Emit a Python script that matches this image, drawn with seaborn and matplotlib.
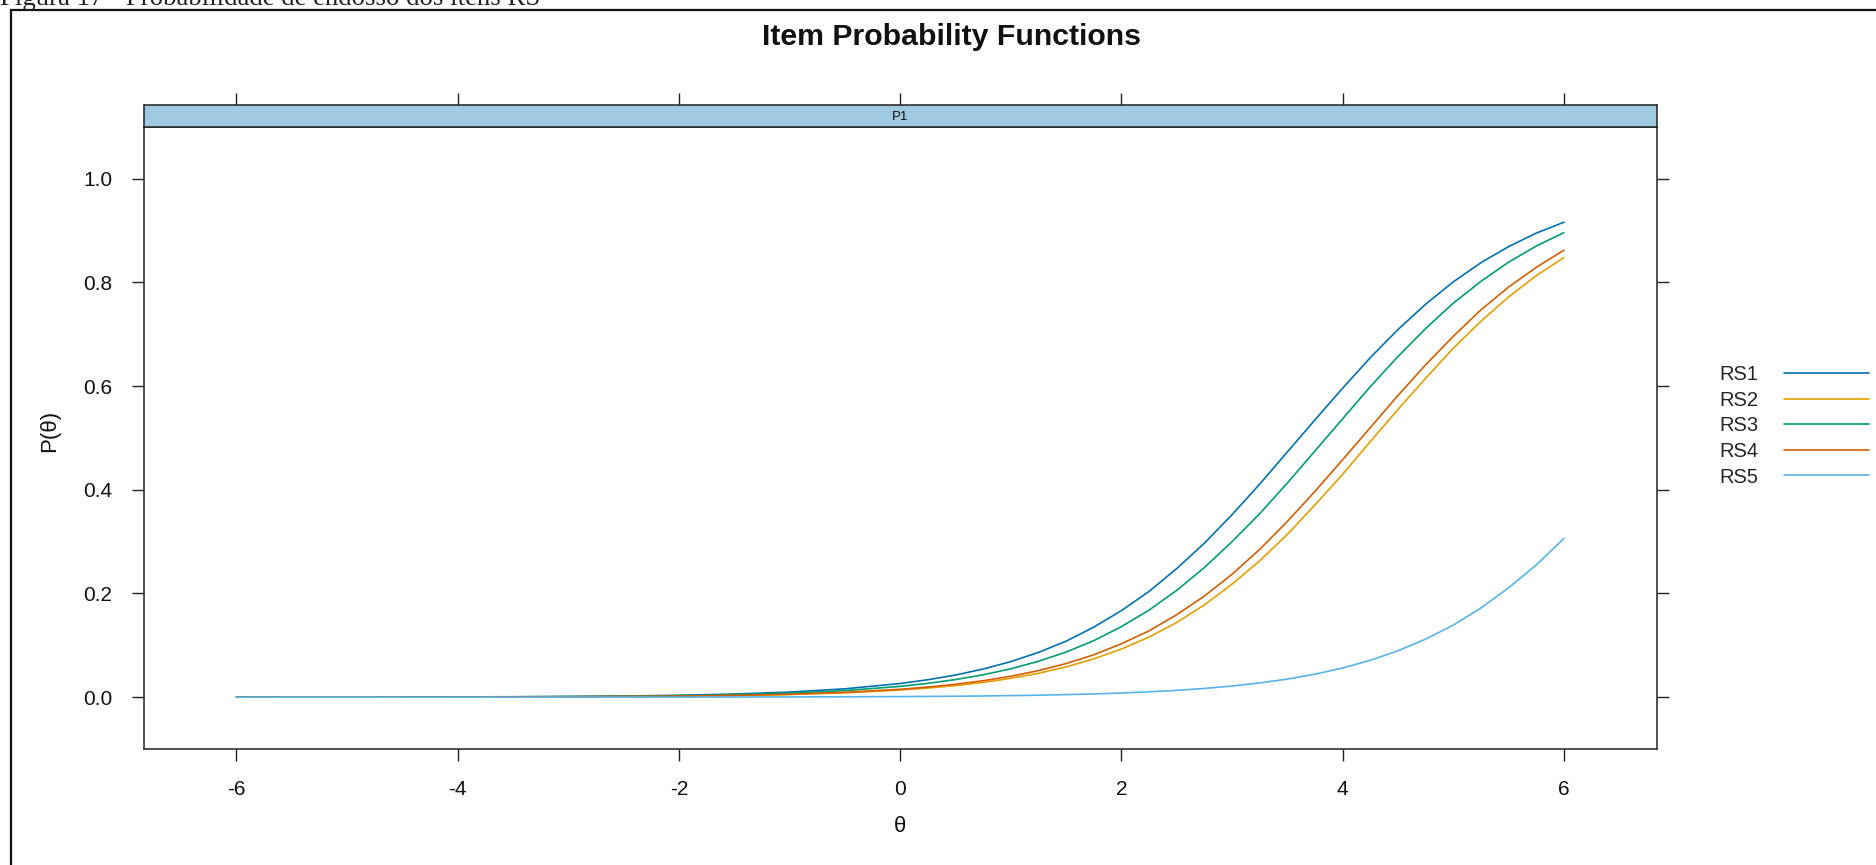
import matplotlib
matplotlib.use("Agg")
import matplotlib.pyplot as plt
from matplotlib.patches import Rectangle
import seaborn as sns
import pandas as pd

# Ability grid (coarse in the flat tail, finer where the curves bend)
theta = [-6.0, -5.5, -5.0, -4.5, -4.0, -3.5, -3.0, -2.5, -2.0, -1.5, -1.0, -0.5,
         0.0, 0.25, 0.5, 0.75, 1.0, 1.25, 1.5, 1.75, 2.0, 2.25, 2.5, 2.75,
         3.0, 3.25, 3.5, 3.75, 4.0, 4.25, 4.5, 4.75, 5.0, 5.25, 5.5, 5.75, 6.0]

rs1 = [0.0001, 0.0001, 0.0002, 0.0003, 0.0005, 0.0008, 0.0013, 0.0022, 0.0036, 0.0060,
       0.0098, 0.0161,
       0.0263, 0.0336, 0.0427, 0.0542, 0.0685, 0.0863, 0.108, 0.135, 0.167, 0.204,
       0.248, 0.297, 0.352, 0.411, 0.473, 0.535, 0.596, 0.655, 0.709, 0.758,
       0.801, 0.838, 0.869, 0.895, 0.916]
rs2 = [0.0000, 0.0001, 0.0001, 0.0002, 0.0003, 0.0004, 0.0007, 0.0011, 0.0019, 0.0031,
       0.0051, 0.0083,
       0.0137, 0.0175, 0.0223, 0.0285, 0.0363, 0.0461, 0.0584, 0.0738, 0.0928, 0.116,
       0.144, 0.178, 0.218, 0.263, 0.314, 0.371, 0.430, 0.493, 0.555, 0.615,
       0.673, 0.725, 0.772, 0.813, 0.848]
rs3 = [0.0001, 0.0001, 0.0001, 0.0002, 0.0004, 0.0006, 0.0011, 0.0017, 0.0029, 0.0047,
       0.0078, 0.0127,
       0.0208, 0.0266, 0.0339, 0.0431, 0.0547, 0.0692, 0.0870, 0.109, 0.136, 0.168,
       0.206, 0.250, 0.300, 0.354, 0.413, 0.475, 0.537, 0.599, 0.657, 0.711,
       0.760, 0.802, 0.839, 0.870, 0.896]
rs4 = [0.0000, 0.0001, 0.0001, 0.0002, 0.0003, 0.0005, 0.0008, 0.0013, 0.0021, 0.0034,
       0.0056, 0.0093,
       0.0152, 0.0195, 0.0248, 0.0317, 0.0403, 0.0512, 0.0648, 0.0817, 0.103, 0.128,
       0.159, 0.195, 0.237, 0.285, 0.339, 0.397, 0.458, 0.520, 0.582, 0.641,
       0.696, 0.747, 0.791, 0.829, 0.862]
rs5 = [0.0000, 0.0000, 0.0000, 0.0000, 0.0000, 0.0000, 0.0001, 0.0001, 0.0001, 0.0002,
       0.0004, 0.0007,
       0.0011, 0.0014, 0.0018, 0.0023, 0.0030, 0.0038, 0.0049, 0.0062, 0.0080, 0.0103,
       0.0131, 0.0168, 0.0215, 0.0274, 0.0349, 0.0444, 0.0563, 0.0711, 0.0895, 0.112,
       0.139, 0.172, 0.211, 0.255, 0.306]

items = ["RS1", "RS2", "RS3", "RS4", "RS5"]
colors = ["#0072B2", "#E69F00", "#009E73", "#D55E00", "#56B4E9"]
x_ticks = [-6, -4, -2, 0, 2, 4, 6]
y_ticks = [0.0, 0.2, 0.4, 0.6, 0.8, 1.0]
panel_name = "P1"

frames = []
for name, vals in zip(items, [rs1, rs2, rs3, rs4, rs5]):
    frames.append(pd.DataFrame({"theta": theta, "P": vals, "item": name}))
df = pd.concat(frames, ignore_index=True)

sns.set_style("white")
plt.rcParams["font.family"] = ["Liberation Sans", "DejaVu Sans"]

fig = plt.figure(figsize=(18.76, 8.65), dpi=100)

# outer frame around the plotting region
fig.patches.append(Rectangle((11 / 1876, -0.2), 1.2, 1.2 - 10 / 865,
                             transform=fig.transFigure, fill=False,
                             edgecolor="#111111", linewidth=1.6, zorder=0))

ax = fig.add_axes([0.0765, 0.1341, 0.8067, 0.7193])
strip = fig.add_axes([0.0765, 0.8534, 0.8067, 0.0249])

sns.lineplot(data=df, x="theta", y="P", hue="item", hue_order=items,
             palette=colors, ax=ax, linewidth=1.2, sort=False, legend=True)

ax.set_xlim(-6.84, 6.84)
ax.set_ylim(-0.1, 1.1)
ax.set_xticks(x_ticks)
ax.set_xticklabels([str(t) for t in x_ticks])
ax.set_yticks(y_ticks)
ax.set_yticklabels([f"{t:.1f}" for t in y_ticks])
ax.tick_params(axis="both", direction="out", length=8.5, width=1.0,
               color="#222222", labelsize=15, labelcolor="#111111")
ax.tick_params(axis="y", right=True, labelright=False, left=True, pad=14)
ax.tick_params(axis="x", bottom=True, top=False, pad=14)
ax.set_xlabel("")
ax.set_ylabel("")
for sp in ax.spines.values():
    sp.set_visible(True)
    sp.set_color("#222222")
    sp.set_linewidth(1.1)

# strip above the panel
strip.set_facecolor("#9FCAE1")
strip.set_xlim(-6.84, 6.84)
strip.set_ylim(0, 1)
strip.set_xticks(x_ticks)
strip.set_yticks([])
strip.tick_params(axis="x", bottom=False, top=True, labelbottom=False,
                  labeltop=False, direction="out", length=8.5, width=1.0,
                  color="#222222")
for sp in strip.spines.values():
    sp.set_visible(True)
    sp.set_color("#222222")
    sp.set_linewidth(1.1)
strip.text(0.5, 0.45, panel_name, transform=strip.transAxes, ha="center",
           va="center", fontsize=9.5, color="#111111")

# legend to the right, label before line
handles, labels = ax.get_legend_handles_labels()
ax.get_legend().remove()
fig.legend(handles, labels, loc="center left", bbox_to_anchor=(0.9163, 0.5078),
           bbox_transform=fig.transFigure, frameon=False, markerfirst=False,
           fontsize=14.5, handlelength=4.2, handletextpad=1.3,
           labelspacing=0.33, borderpad=0, borderaxespad=0)

fig.text(0.507, 0.957, "Item Probability Functions", ha="center", va="center",
         fontsize=21.8, fontweight="bold", color="#111111")
fig.text(50 / 1876, 1 - 431 / 865, "P(θ)", rotation=90, ha="center",
         va="center", fontsize=16, color="#111111")
fig.text(900 / 1876, 1 - 826 / 865, "θ", ha="center", va="center",
         fontsize=16, color="#111111")
fig.text(0.0, 1 - 5 / 865, "Figura 17 - Probabilidade de endosso dos itens RS",
         ha="left", va="baseline", fontsize=19.3,
         family=["Liberation Serif", "DejaVu Serif"], color="#222222")

fig.savefig("out.png", dpi=100)
